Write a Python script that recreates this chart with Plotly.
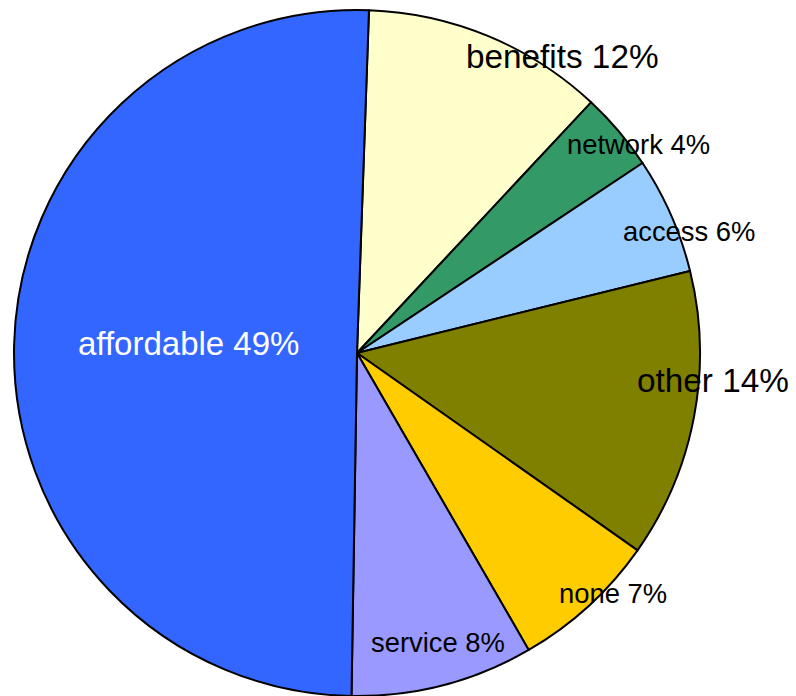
import plotly.graph_objects as go

# Data (slice order clockwise from 12 o'clock)
categories = ["benefits", "network", "access", "other", "none", "service", "affordable"]
slice_values = [11.4, 3.7, 5.5, 13.6, 6.9, 8.6, 50.3]
pct_labels = ["12%", "4%", "6%", "14%", "7%", "8%", "49%"]

# Styles
colors = ["#FFFFCC", "#339966", "#99CCFF", "#808000", "#FFCC00", "#9999FF", "#3366FF"]
text_colors = ["black", "black", "black", "black", "black", "black", "white"]
text_sizes = [33.3, 27.4, 27.4, 33.3, 27.4, 27.4, 33.0]
# label centres in pixels (x, y from top)
label_pos = [(562.5, 57), (638.7, 144.6), (689.3, 231.3), (713, 380.3),
             (613, 593.3), (438.3, 642.3), (188, 343.6)]

W, H = 796, 696

fig = go.Figure(go.Pie(
    labels=categories,
    values=slice_values,
    sort=False,
    direction="clockwise",
    rotation=2,
    marker=dict(colors=colors, line=dict(color="black", width=2)),
    textinfo="none",
    hoverinfo="label+percent",
    showlegend=False,
    domain=dict(x=[14 / W, 700 / W], y=[0, 686 / H]),
))

annotations = []
for cat, pct, (px, py), col, sz in zip(categories, pct_labels, label_pos, text_colors, text_sizes):
    annotations.append(dict(
        text=f"{cat} {pct}", x=px / W, y=1 - py / H, xref="paper", yref="paper",
        xanchor="center", yanchor="middle", showarrow=False,
        font=dict(family="Liberation Sans, Arial, sans-serif", size=sz, color=col),
    ))

fig.update_layout(
    width=W, height=H,
    margin=dict(l=0, r=0, t=0, b=0),
    paper_bgcolor="white", plot_bgcolor="white",
    annotations=annotations,
)

fig.write_html("out.html")
